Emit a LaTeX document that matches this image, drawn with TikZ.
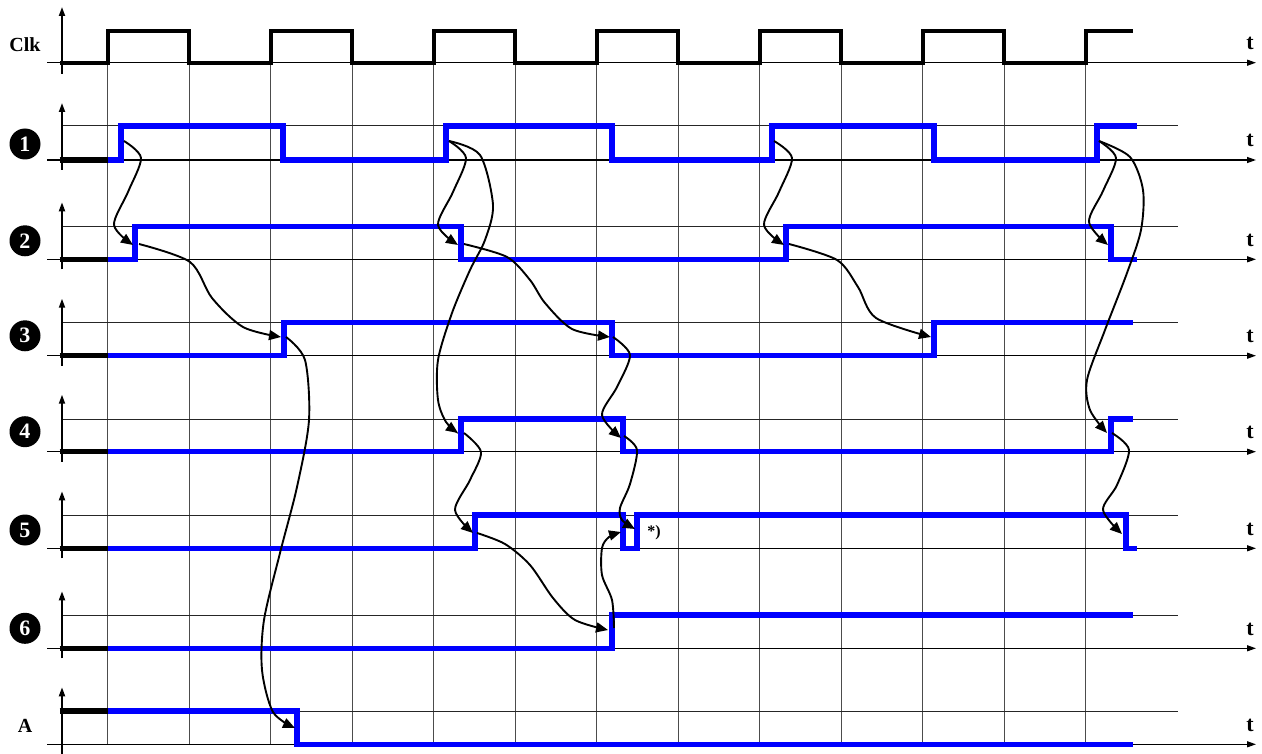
\documentclass[tikz,border=0pt]{standalone}
\usepackage{fontspec}
\setmainfont{Liberation Serif}
\usetikzlibrary{arrows.meta}
\definecolor{sigblue}{RGB}{0,0,255}
\begin{document}
\begin{tikzpicture}[x=1pt,y=-1pt,
  gridline/.style={draw=black!70, line width=1.2pt},
  level/.style={draw=black!85, line width=1pt},
  taxis/.style={draw=black, line width=1.3pt, -{Triangle[length=9pt,width=6pt]}},
  vaxis/.style={draw=black, line width=1.8pt, -{Triangle[length=9pt,width=6pt]}},
  clk/.style={draw=black, line width=4pt, line join=miter},
  sig/.style={draw=sigblue, line width=5.5pt, line join=miter},
  init/.style={draw=black, line width=5.5pt},
  arr/.style={draw=black, line width=1.9pt, -{Triangle[length=12pt,width=10pt]}},
  num/.style={circle, fill=black, text=white, minimum size=31pt, inner sep=0pt, font=\fontsize{22}{22}\selectfont\bfseries},
  lab/.style={font=\fontsize{20}{20}\selectfont\bfseries, anchor=base},
  tlab/.style={font=\fontsize{22}{22}\selectfont\bfseries, anchor=base},
]
\useasboundingbox (0,0) rectangle (1262,754);

% vertical grid lines
\foreach \k in {0,...,12}
  \draw[gridline] (107.7+81.5*\k,62.7) -- (107.7+81.5*\k,744.3);

% clock axes
\draw[taxis] (47,62.7) -- (1256,62.7);
\draw[vaxis] (62,73.7) -- (62,7);
\node[tlab] (t0) at (1250,49.7) {t};

% signal rows: axes, level lines, t labels
\foreach \yb/\yh/\i in {160/126/1, 259.3/226.7/2, 355.7/322.7/3, 451.7/419/4, 548.3/515/5, 648.3/615/6, 744.3/711/7} {
  \draw[level] (62,\yh) -- (1178,\yh);
  \draw[taxis] (47,\yb) -- (1256,\yb);
  \draw[vaxis] (62,\yb+10) -- (62,\yb-57);
  \node[tlab] (t\i) at (1250,\yb-13) {t};
}

% labels
\node[lab] (lclk) at (25,52) {Clk};
\node[num] (n1) at (25,144) {1};
\node[num] (n2) at (25,240.8) {2};
\node[num] (n3) at (25,335.8) {3};
\node[num] (n4) at (25,431.7) {4};
\node[num] (n5) at (25,530) {5};
\node[num] (n6) at (25,628.3) {6};
\node[lab] (la) at (25,732) {A};
\node[font=\fontsize{16}{16}\selectfont\bfseries] (star) at (654,533) {*)};

% clock
\draw[clk] (60,62.7) -- (107.7,62.7) -- (107.7,31) -- (189.2,31) -- (189.2,62.7)
  -- (270.7,62.7) -- (270.7,31) -- (352.2,31) -- (352.2,62.7)
  -- (433.7,62.7) -- (433.7,31) -- (515.2,31) -- (515.2,62.7)
  -- (596.7,62.7) -- (596.7,31) -- (678.2,31) -- (678.2,62.7)
  -- (759.7,62.7) -- (759.7,31) -- (841.2,31) -- (841.2,62.7)
  -- (922.7,62.7) -- (922.7,31) -- (1004.2,31) -- (1004.2,62.7)
  -- (1085.7,62.7) -- (1085.7,31) -- (1133,31);

% initial black segments
\foreach \y in {160,259.3,355.7,451.7,548.3,648.3,711}
  \draw[init] (59.5,\y) -- (107.7,\y);

% blue signals
\draw[sig] (107.7,160) -- (121,160) -- (121,126) -- (283,126) -- (283,160) -- (446,160) -- (446,126)
  -- (612,126) -- (612,160) -- (772,160) -- (772,126) -- (934,126) -- (934,160) -- (1097,160)
  -- (1097,126) -- (1137,126);
\draw[sig] (107.7,259.3) -- (135,259.3) -- (135,226.7) -- (461,226.7) -- (461,259.3) -- (786,259.3)
  -- (786,226.7) -- (1111,226.7) -- (1111,259.3) -- (1137,259.3);
\draw[sig] (107.7,355.7) -- (284,355.7) -- (284,322.7) -- (612,322.7) -- (612,355.7) -- (934,355.7)
  -- (934,322.7) -- (1133,322.7);
\draw[sig] (107.7,451.7) -- (461,451.7) -- (461,419) -- (623,419) -- (623,451.7) -- (1111,451.7)
  -- (1111,419) -- (1133,419);
\draw[sig] (107.7,548.3) -- (475,548.3) -- (475,515) -- (623,515) -- (623,548.3) -- (637,548.3)
  -- (637,515) -- (1126,515) -- (1126,548.3) -- (1137,548.3);
\draw[sig] (107.7,648.3) -- (612,648.3) -- (612,615) -- (1133,615);
\draw[sig] (107.7,711) -- (297,711) -- (297,744.3) -- (1133,744.3);

% arrow end points
\coordinate (a1s) at (124,141);  \coordinate (a1e) at (133,245);
\coordinate (a2s) at (139,244);  \coordinate (a2e) at (281,337);
\coordinate (a3s) at (286,337);  \coordinate (a3e) at (295,728);
\coordinate (a4s) at (449,141);  \coordinate (a4e) at (458,245);
\coordinate (a5s) at (449,141);  \coordinate (a5e) at (458,433);
\coordinate (a6s) at (464,244);  \coordinate (a6e) at (610,337);
\coordinate (a7s) at (464,433);  \coordinate (a7e) at (473,533);
\coordinate (a8s) at (613,337);  \coordinate (a8e) at (621,438);
\coordinate (a9s) at (624,436);  \coordinate (a9e) at (635,529);
\coordinate (a10s) at (477,533); \coordinate (a10e) at (608,630);
\coordinate (a11s) at (614,628); \coordinate (a11e) at (621,532);
\coordinate (a12s) at (774,141); \coordinate (a12e) at (784,245);
\coordinate (a13s) at (789,244); \coordinate (a13e) at (931,337);
\coordinate (a14s) at (1099,141); \coordinate (a14e) at (1108,245);
\coordinate (a15s) at (1099,141); \coordinate (a15e) at (1107,433);
\coordinate (a16s) at (1112,433); \coordinate (a16e) at (1122,534);

% causal arrows
\draw[arr] plot[smooth] coordinates {(a1s) (141,158) (128,192) (114,225) (a1e)};
\draw[arr] plot[smooth] coordinates {(a2s) (190,262) (212,298) (243,327) (a2e)};
\draw[arr] plot[smooth] coordinates {(a3s) (305,360) (309,420) (297,487) (280,553) (264,620) (262,670) (273,712) (a3e)};
\draw[arr] plot[smooth] coordinates {(a4s) (466,158) (453,192) (438,225) (a4e)};
\draw[arr] plot[smooth] coordinates {(a5s) (480,155) (493,205) (485,240) (470,270) (452,313) (438,360) (438,400) (446,422) (a5e)};
\draw[arr] plot[smooth] coordinates {(a6s) (507,257) (530,280) (545,303) (572,329) (a6e)};
\draw[arr] plot[smooth] coordinates {(a7s) (481,452) (470,480) (455,510) (a7e)};
\draw[arr] plot[smooth] coordinates {(a8s) (630,355) (617,387) (602,415) (a8e)};
\draw[arr] plot[smooth] coordinates {(a9s) (637,450) (630,484) (620,508) (622,520) (a9e)};
\draw[arr] plot[smooth] coordinates {(a10s) (505,544) (530,565) (553,598) (575,620) (a10e)};
\draw[arr] plot[smooth] coordinates {(a11s) (612,600) (602,575) (602,548) (609,537) (a11e)};
\draw[arr] plot[smooth] coordinates {(a12s) (792,158) (779,192) (764,225) (a12e)};
\draw[arr] plot[smooth] coordinates {(a13s) (837,260) (858,287) (876,318) (a13e)};
\draw[arr] plot[smooth] coordinates {(a14s) (1116,158) (1103,191) (1089,222) (a14e)};
\draw[arr] plot[smooth] coordinates {(a15s) (1130,157) (1143,190) (1141,230) (1127,273) (1105,330) (1087,380) (1090,410) (a15e)};
\draw[arr] plot[smooth] coordinates {(a16s) (1129,450) (1117,485) (1103,510) (a16e)};
\end{tikzpicture}
\end{document}
